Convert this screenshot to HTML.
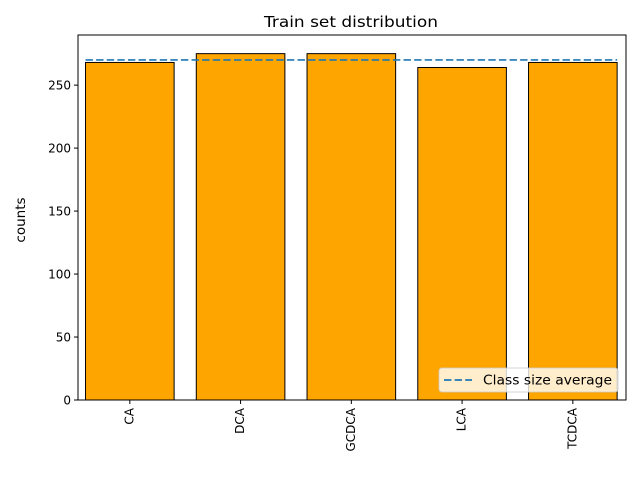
<!DOCTYPE html>
<html><head><meta charset="utf-8"><style>
body{margin:0;background:#fff;}
svg text{font-family:"DejaVu Sans","Liberation Sans",sans-serif;}
</style></head><body>
<svg id="chart" width="640" height="480" xmlns="http://www.w3.org/2000/svg">
<text x="351" y="27" font-size="15" text-anchor="middle" textLength="174" lengthAdjust="spacingAndGlyphs">Train set distribution</text>
<text transform="translate(25,220) rotate(-90)" font-size="13.5" text-anchor="middle">counts</text>
<g id="bars"></g><g id="ticks"></g>
<line id="avg" stroke="#1f77b4" stroke-width="1.7" stroke-dasharray="7.4,3.2"/>
<rect x="78" y="35" width="548" height="365" fill="none" stroke="#000" stroke-width="1"/>
<g>
<rect x="439" y="368" width="179" height="24" rx="3" fill="#fff" fill-opacity="0.8" stroke="#ccc" stroke-opacity="0.8"/>
<line x1="444" y1="380" x2="472" y2="380" stroke="#1f77b4" stroke-width="1.7" stroke-dasharray="7.4,3.2"/>
<text x="483" y="384.5" font-size="13" textLength="129" lengthAdjust="spacingAndGlyphs">Class size average</text>
</g>
</svg>
<script>
const categories=["CA","DCA","GCDCA","LCA","TCDCA"];
const counts=[268,275,275,264,268];
const yTicks=[0,50,100,150,200,250];
const L=78,R=626,T=35,B=400,xmin=-0.468,xmax=4.48,ymax=289.8;
const sx=v=>L+(v-xmin)/(xmax-xmin)*(R-L);
const sy=v=>B-v/ymax*(B-T);
const NS="http://www.w3.org/2000/svg";
const bars=document.getElementById('bars'),ticks=document.getElementById('ticks');
function mk(t,a,p){const e=document.createElementNS(NS,t);for(const k in a)e.setAttribute(k,a[k]);p.appendChild(e);return e;}
categories.forEach((c,i)=>{
 const r=mk('rect',{x:sx(i-0.4),y:sy(counts[i]),width:sx(i+0.4)-sx(i-0.4),height:B-sy(counts[i]),fill:'#ffa500',stroke:'#000','stroke-width':1},bars);
 
 
 const tl=mk('line',{x1:sx(i),x2:sx(i),y1:B,y2:B+4,stroke:'#000'},ticks);
 
 
 const tx=mk('text',{transform:`translate(${sx(i)+3.5},${B+8}) rotate(-90)`,'font-size':12,'text-anchor':'end'},ticks);
 tx.textContent=c;
 
 
});
yTicks.forEach(v=>{
 const tl=mk('line',{x1:L-4,x2:L,y1:sy(v),y2:sy(v),stroke:'#000'},ticks);
 
 
 const tx=mk('text',{x:L-7,y:sy(v)+4.5,'font-size':12,'text-anchor':'end'},ticks);
 tx.textContent=v;
 
 
});
const avg=counts.reduce((a,b)=>a+b,0)/counts.length;
const al=document.getElementById('avg');
al.setAttribute('x1',sx(-0.4));al.setAttribute('x2',sx(4.4));
al.setAttribute('y1',sy(avg));al.setAttribute('y2',sy(avg));
</script>
</body></html>
